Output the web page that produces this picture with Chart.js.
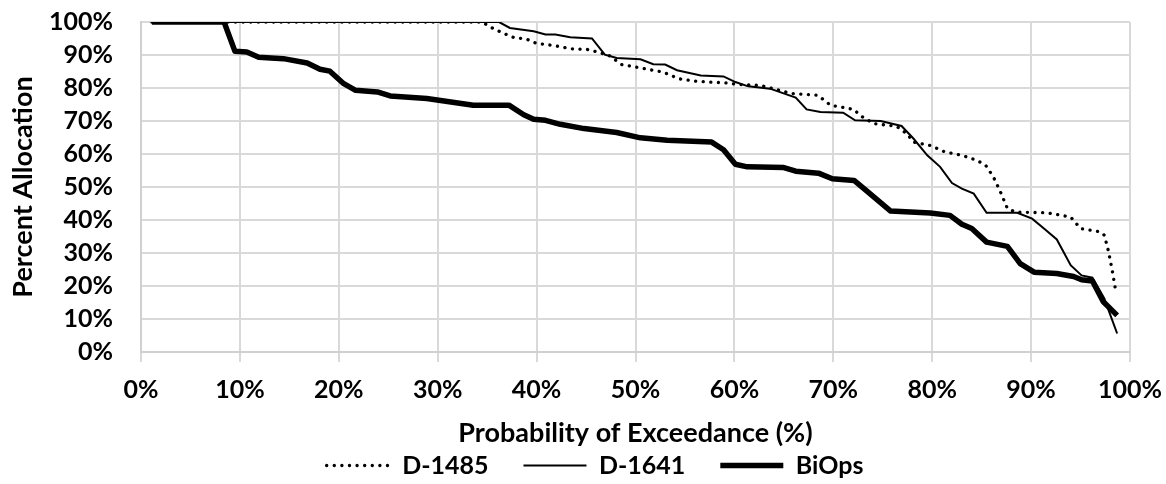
<!DOCTYPE html>
<html>
<head>
<meta charset="utf-8">
<script src="https://cdn.jsdelivr.net/npm/chart.js@4"></script>
<style>
  html, body { margin: 0; padding: 0; background: #fff; }
  #wrap { width: 1166px; height: 484px; position: relative; }
</style>
</head>
<body>
<div id="wrap"><canvas id="myChart"></canvas></div>
<script>
// values (x = probability of exceedance %, y = percent allocation)
var d1485X = [1.1, 34.5, 35.3, 36.7, 37.7, 39.0, 40.0, 41.7, 43.4, 45.1, 45.9, 47.3, 48.6, 50.3, 52.8, 54.4, 55.9, 59.3, 60.3, 62.6, 64.3, 65.8, 68.4, 69.0, 69.7, 72.1, 72.7, 74.1, 76.4, 77.5, 78.1, 79.8, 81.3, 83.0, 84.5, 85.4, 86.2, 86.9, 87.6, 88.4, 91.6, 94.0, 95.0, 97.0, 97.4, 97.8, 98.2, 98.6];
var d1485Y = [100, 100, 98.5, 96.5, 95.3, 94.8, 93.5, 92.9, 91.9, 91.7, 91.1, 89.9, 87.1, 86.2, 84.8, 82.8, 82.1, 81.5, 81.1, 80.8, 79.5, 78.3, 77.8, 76.5, 74.8, 73.5, 71.7, 69.2, 68.4, 66.0, 63.6, 62.6, 60.6, 59.6, 58.1, 56.6, 53.0, 48.5, 43.5, 42.4, 42.2, 40.9, 37.4, 36.4, 35.4, 30.8, 24.8, 17.7];

var d1641X = [1.1, 36.2, 37.3, 39.7, 40.9, 41.9, 43.4, 45.6, 46.9, 48.1, 50.5, 51.8, 53.0, 54.2, 56.6, 58.9, 60.1, 61.4, 63.6, 66.2, 67.3, 68.7, 71.0, 72.2, 74.8, 76.9, 78.1, 79.5, 80.8, 82.0, 83.0, 84.2, 85.5, 88.6, 90.1, 91.3, 92.6, 94.0, 95.1, 96.2, 97.4, 98.7];
var d1641Y = [100, 100, 98.2, 97.2, 96.2, 96.2, 95.4, 95.0, 90.1, 89.1, 88.7, 87.2, 87.1, 85.4, 83.8, 83.5, 81.8, 80.5, 79.8, 77.1, 73.5, 72.7, 72.5, 70.2, 70.0, 68.5, 64.7, 59.6, 56.1, 51.2, 49.5, 48.0, 42.2, 42.2, 40.4, 37.4, 34.1, 26.3, 23.2, 22.5, 16.2, 5.6];

var biopsX = [1.1, 8.4, 9.5, 10.7, 11.9, 14.4, 16.8, 18.1, 19.1, 20.5, 21.7, 23.9, 25.2, 28.9, 33.6, 37.2, 38.7, 39.7, 40.9, 42.4, 44.8, 48.1, 50.5, 53.2, 57.7, 58.9, 60.1, 61.3, 65.0, 66.2, 68.5, 69.9, 72.1, 73.1, 75.8, 79.8, 81.8, 83.0, 84.0, 85.5, 87.6, 88.9, 90.3, 92.6, 94.3, 95.1, 96.2, 97.3, 98.7];
var biopsY = [100, 100, 91.1, 90.9, 89.3, 88.9, 87.6, 85.7, 85.1, 81.3, 79.3, 78.8, 77.6, 76.8, 74.8, 74.8, 71.9, 70.5, 70.2, 69.0, 67.7, 66.5, 64.9, 64.2, 63.6, 61.3, 56.9, 56.1, 55.9, 54.8, 54.2, 52.5, 52.0, 49.5, 42.7, 42.1, 41.4, 38.7, 37.4, 33.3, 32.0, 26.8, 24.2, 23.8, 22.9, 21.9, 21.5, 15.2, 11.1];

var seriesNames = ['D-1485', 'D-1641', 'BiOps'];
var xTitle = 'Probability of Exceedance (%)';
var yTitle = 'Percent Allocation';

function pts(xs, ys) {
	return xs.map(function (x, i) { return { x: x, y: ys[i] }; });
}

var font = { family: 'Lato', size: 25, weight: 'bold' };
var titleFont = { family: 'Lato', size: 27, weight: 'bold' };

// legend samples should look like the lines themselves
function legendLabels(chart) {
	var items = Chart.defaults.plugins.legend.labels.generateLabels(chart);
	items.forEach(function (it) {
		var ds = chart.data.datasets[it.datasetIndex];
		it.lineWidth = ds.borderWidth;
		it.lineDash = ds.borderDash || [];
		it.lineCap = ds.borderCapStyle || 'butt';
		it.pointStyle = 'line';
		it.strokeStyle = '#000';
	});
	return items;
}

// the legend in the picture sits a little right of the canvas centre
var legendShift = {
	id : 'legendShift',
	afterLayout : function (chart) {
		if (chart.legend) {
			chart.legend.left += 30;
			chart.legend.right += 30;
		}
	}
};

var ctx = document.getElementById('myChart');
var myChart = new Chart(ctx, {
	type : 'line',
	data : {
		datasets : [ {
			label : seriesNames[0],
			data : pts(d1485X, d1485Y),
			borderColor : '#000',
			backgroundColor : '#000',
			borderWidth : 3.3,
			borderDash : [ 0.1, 7.5 ],
			borderCapStyle : 'round',
			pointRadius : 0,
			tension : 0
		}, {
			label : seriesNames[1],
			data : pts(d1641X, d1641Y),
			borderColor : '#000',
			backgroundColor : '#000',
			borderWidth : 2,
			pointRadius : 0,
			tension : 0
		}, {
			label : seriesNames[2],
			data : pts(biopsX, biopsY),
			borderColor : '#000',
			backgroundColor : '#000',
			borderWidth : 5.5,
			borderJoinStyle : 'round',
			pointRadius : 0,
			tension : 0
		} ]
	},
	plugins : [ legendShift ],
	options : {
		responsive : true,
		maintainAspectRatio : false,
		animation : false,
		devicePixelRatio : 1,
		layout : { padding : { top : 22, right : 36, left : 0, bottom : -4 } },
		plugins : {
			tooltip : { enabled : false },
			legend : {
				position : 'bottom',
				labels : {
					color : '#000',
					font : font,
					usePointStyle : true,
					pointStyle : 'line',
					pointStyleWidth : 63,
					boxWidth : 63,
					padding : 35,
					generateLabels : legendLabels
				}
			}
		},
		scales : {
			x : {
				type : 'linear',
				min : 0,
				max : 100,
				ticks : {
					stepSize : 10,
					autoSkip : false,
					maxRotation : 0,
					color : '#000',
					font : font,
					padding : 13,
					callback : function (v) { return v + '%'; }
				},
				grid : { color : '#d9d9d9', lineWidth : 2, tickLength : 10 },
				border : { color : '#d0d0d0', width : 2 },
				title : {
					display : true,
					text : xTitle,
					color : '#000',
					font : titleFont,
					padding : { top : 4, bottom : -31 }
				},
				afterFit : function (scale) {
					scale.height = 66;
					scale.paddingLeft = 0;
					scale.paddingRight = 0;
				}
			},
			y : {
				min : 0,
				max : 100,
				ticks : {
					stepSize : 10,
					autoSkip : false,
					color : '#000',
					font : font,
					padding : 28,
					callback : function (v) { return v + '%'; }
				},
				grid : { color : '#d9d9d9', lineWidth : 2, drawTicks : false },
				border : { color : '#d0d0d0', width : 2 },
				title : {
					display : true,
					text : yTitle,
					color : '#000',
					font : titleFont,
					padding : { top : 7, bottom : 0 }
				},
				afterFit : function (scale) {
					scale.width = 141;
					scale.paddingTop = 0;
					scale.paddingBottom = 0;
				}
			}
		}
	}
});
</script>
</body>
</html>
